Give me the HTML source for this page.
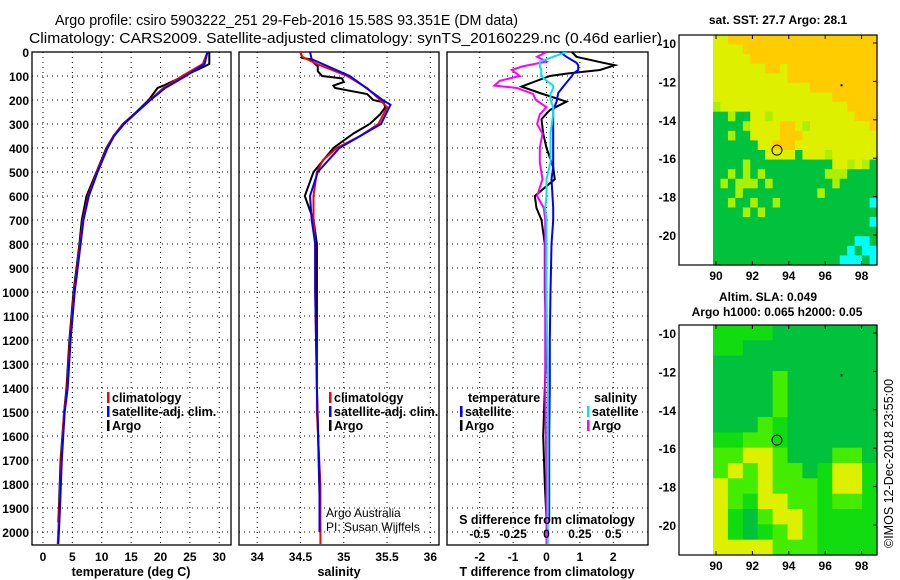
<!DOCTYPE html>
<html><head><meta charset="utf-8">
<style>
html,body{margin:0;padding:0;background:#fff;}
svg{display:block;font-family:"Liberation Sans",Arial,sans-serif;}
.t{font-size:12px;font-weight:bold;fill:#000;}
.lg{font-size:12.5px;font-weight:bold;fill:#000;}
.ti{font-size:15px;fill:#000;}
.n{font-size:12px;fill:#000;}
</style></head>
<body>
<svg id="fig" width="900" height="580" viewBox="0 0 900 580">
<text class="ti" x="55" y="25" textLength="463" lengthAdjust="spacingAndGlyphs">Argo profile: csiro 5903222_251 29-Feb-2016 15.58S 93.351E (DM data)</text>
<text class="ti" x="29" y="43" textLength="633" lengthAdjust="spacingAndGlyphs">Climatology: CARS2009. Satellite-adjusted climatology: synTS_20160229.nc (0.46d earlier)</text>
<text class="n" x="0" y="0" transform="translate(893,548) rotate(-90)" style="font-size:12.5px">©IMOS 12-Dec-2018 23:55:00</text>
<g id="g"></g>
</svg>
<script>
// ---- profile data ----
const tempDepth = [0,50,100,150,200,250,300,350,400,500,600,700,800,900,1000,1200,1400,1500,1700,1900,2000,2050];
const climT = [28.0,27.2,23.7,20.5,18.2,16.0,13.7,12.0,10.9,9.2,7.7,6.8,6.3,5.8,5.3,4.6,4.1,3.6,3.1,2.8,2.6,2.5];
const satT = [28.0,27.5,24.3,20.8,18.3,16.0,13.8,12.1,11.0,9.3,7.8,6.9,6.4,5.9,5.4,4.7,4.2,3.7,3.2,2.9,2.7,2.6];
const argoTDepth = [0,50,60,100,140,150,200,250,300,350,400,500,600,700,800,900,1000,1200,1400,1500,1700,1900,1960];
const argoT = [28.3,28.3,27.5,24,20.5,19.5,18,15.9,13.6,12.0,10.8,9.1,7.4,6.6,6.2,5.7,5.2,4.5,4.0,3.6,3.0,2.7,2.6];

const climSDepth = [0,20,50,100,150,200,230,300,350,400,450,500,600,700,800,1000,1400,1500,1800,2050];
const climS = [34.50,34.52,34.69,35.04,35.27,35.42,35.50,35.40,35.19,34.92,34.76,34.69,34.65,34.65,34.67,34.67,34.69,34.69,34.73,34.73];
const satSDepth = [0,30,100,200,220,300,400,500,600,700,800,1000,1400,1800,2000];
const satS = [34.61,34.63,35.07,35.45,35.54,35.43,34.95,34.70,34.61,34.63,34.67,34.67,34.69,34.72,34.72];
const argoSDepth = [0,25,30,60,80,100,110,125,140,150,175,200,210,230,260,300,340,400,500,600,650,700,800,1000,1400,2000];
const argoS = [34.50,34.52,34.61,34.70,34.70,34.75,34.98,35.0,34.88,34.9,35.27,35.34,35.46,35.48,35.42,35.3,35.11,34.88,34.65,34.55,34.60,34.65,34.69,34.69,34.69,34.73];

const dTDepth = [0,20,45,55,75,90,100,144,171,207,242,280,340,400,480,530,600,650,700,800,1000,1200,1400,1600,1800,1950];
const argoDT = [0.76,0.9,1.7,2.05,1.6,0.6,0.1,-0.75,-0.2,0.6,0.1,-0.15,-0.1,0.0,0.2,0.25,-0.35,-0.3,-0.15,-0.05,-0.05,0.0,-0.05,-0.1,-0.05,0.0];
const satDT = [0.4,0.6,0.9,0.95,0.95,0.8,0.76,0.5,0.35,0.3,0.2,0.2,0.2,0.2,0.2,0.15,0.18,0.2,0.2,0.15,0.12,0.1,0.1,0.08,0.08,0.08];
const dSDepth = [0,20,40,60,75,100,120,140,150,175,200,230,260,300,340,400,460,530,600,650,700,800,1000,1400,1800,2050];
const argoDS = [0,-0.07,0,-0.18,-0.26,-0.2,-0.35,-0.39,-0.22,-0.1,-0.08,0,-0.05,-0.07,-0.03,-0.05,-0.05,-0.03,-0.07,-0.02,-0.01,-0.01,-0.01,-0.01,0,0];
const satDS = [0.15,0.05,-0.05,-0.05,-0.04,-0.04,0.0,0.05,0.05,0.03,0.03,0.05,0.05,0.04,0.03,0.03,0.03,0.0,0.0,-0.01,0.0,0.0,0.0,0.01,0.01,0.01];

const depthTicks = [0,100,200,300,400,500,600,700,800,900,1000,1100,1200,1300,1400,1500,1600,1700,1800,1900,2000];
const tempTicks = [0,5,10,15,20,25,30];
const salTicks = [34,34.5,35,35.5,36];
const dTTicks = [-2,-1,0,1,2];
const dSTicks = [-0.5,-0.25,0,0.25,0.5];
const lonTicks = [90,92,94,96,98];
const latTicks = [-10,-12,-14,-16,-18,-20];

// map images (coarse cells)
const sstRows = [
"YYOOOOOOOOOOOOOOOOOOOO","YYYYOOOOOOOOOOOOOOOOOO","YYYYYOOOOOOOOOOOOOOOOO","YYYYYYYOOYOOOOOOOOOOOO",
"YYYYYYYYYYOOOOOOOOOOOO","YYYYYYYYYYYYYOOOOOOOOO","YYYYYYYYYYYYYYYYOOOOOO","LYYYYYYYYYYYYYYYYYOOOO",
"GGLGGYYLYYYYYYYYYYYOOO","GGGGLYYYYOOYLYYYYYYYYO","GGLGGYYYYOOOYYYYYYYYYY","GGGGGGYYOOOYYYYYYYYYYY",
"GGGGGGGYYYYGYYYLYYYYYY","GGGGLGGGGGGGGGGGYYLYLG","GGLGLGLGGGGGGGGLLLGGGG","GLGLLLGLGGGGGGGGLGGGGG",
"GGGLGGGGGGGGGGLGGGGGGG","GGLGGLGGLGGGGGGGGGGGGC","GGGGLGLGGGGGGGGGGGGGGG","GGGGGGGGGGGGGGGGGGGGGC",
"GGGGGGGGGGGGGGGGGGGGGG","GGGGGGGGGGGGGGGGGGGCCG","GGGGGGGGGGGGGGGGGGCGCC","GGGGGGGGGGGGGGGGGCCCGC"];
const slaRows = [
"MMMMDDDDDDD","MMDDDDDDDDD","DDDDDDDDDDD","DDDDBDDDDDD","DDDDBDDDDDD",
"DDDDBDDDDDD","DDDBMDDDDDD","MMBBMDDDDDD","BBYYBDDDBBD","BYBYBBDMYYM",
"YBBYBBBMYYM","YBMYYBBMBBM","YMDBYYBMMMM","YMDMBYBMMMM","YYYYBBBMMMM"];

const NS="http://www.w3.org/2000/svg";
const G=document.getElementById('g');
function mk(tag,attrs,parent){const e=document.createElementNS(NS,tag);for(const k in attrs)e.setAttribute(k,attrs[k]);(parent||G).appendChild(e);return e;}
function txt(s,x,y,cls,anchor,parent){const e=mk('text',{x:x,y:y,class:cls,'text-anchor':anchor||'start'},parent);e.textContent=s;return e;}

const Y0=52, PY=0.24, BOT=545;
const yD = d => Y0 + d*PY;
const panels=[
 {x0:32,x1:231,vmin:-1.87,vmax:32.0,name:'temperature-panel'},
 {x0:239,x1:439,vmin:33.79,vmax:36.1,name:'salinity-panel'},
 {x0:447,x1:648,vmin:-2.98,vmax:3.04,name:'difference-panel'}];
panels.forEach((p,i)=>{
 p.sx = v => p.x0 + (v-p.vmin)/(p.vmax-p.vmin)*(p.x1-p.x0);
 const cp=mk('clipPath',{id:'cp'+i});
 mk('rect',{x:p.x0,y:Y0,width:p.x1-p.x0,height:BOT-Y0},cp);
});
const sxS = v => panels[2].sx(v*4);

function gridAndFrame(p,i,ticks,fx){
 const g=mk('g',{});
 
 
 depthTicks.forEach(d=>{ if(d>0) mk('line',{x1:p.x0,x2:p.x1,y1:yD(d),y2:yD(d),stroke:'#000','stroke-width':1,'stroke-dasharray':'1,4'},g);});
 ticks.forEach(v=>{ const x=fx(v); mk('line',{x1:x,x2:x,y1:Y0,y2:BOT,stroke:'#000','stroke-width':1,'stroke-dasharray':'1,4'},g);});
 mk('rect',{x:p.x0,y:Y0,width:p.x1-p.x0,height:BOT-Y0,fill:'none',stroke:'#000','stroke-width':1.3},g);
 return g;
}
function series(p,i,vals,depths,fx,color,name){
 let d='';
 vals.forEach((v,k)=>{d+=(k?'L':'M')+fx(v).toFixed(1)+','+yD(depths[k]).toFixed(1);});
 const e=mk('path',{d:d,fill:'none',stroke:color,'stroke-width':2,'clip-path':'url(#cp'+i+')'});
 
 
}

const pT=panels[0];
gridAndFrame(pT,0,tempTicks,pT.sx);
series(pT,0,argoT,argoTDepth,pT.sx,'#000','argo-temperature-line');
series(pT,0,climT,tempDepth,pT.sx,'#ff0000','climatology-temperature-line');
series(pT,0,satT,tempDepth,pT.sx,'#0000ff','satellite-temperature-line');
const pS=panels[1];
gridAndFrame(pS,1,salTicks,pS.sx);
series(pS,1,argoS,argoSDepth,pS.sx,'#000','argo-salinity-line');
series(pS,1,climS,climSDepth,pS.sx,'#ff0000','climatology-salinity-line');
series(pS,1,satS,satSDepth,pS.sx,'#0000ff','satellite-salinity-line');
const pD=panels[2];
gridAndFrame(pD,2,dTTicks,pD.sx);
series(pD,2,argoDT,dTDepth,pD.sx,'#000','argo-t-difference-line');
series(pD,2,satDT,dTDepth,pD.sx,'#0000ff','satellite-t-difference-line');
series(pD,2,argoDS,dSDepth,sxS,'#ff00ff','argo-s-difference-line');
series(pD,2,satDS,dSDepth,sxS,'#00e5ee','satellite-s-difference-line');

depthTicks.forEach(d=>{const e=txt(String(d),29,yD(d)+5,'t','end');
 
 });
function xlabels(ticks,fx,y,name){ticks.forEach(v=>{const e=txt(String(v),fx(v),y,'t','middle');
 
 });}
xlabels(tempTicks,pT.sx,561,'temperature-tick-label');
xlabels(salTicks,pS.sx,561,'salinity-tick-label');
xlabels(dTTicks,pD.sx,561,'t-difference-tick-label');
xlabels(dSTicks,sxS,538,'s-difference-tick-label');
[['temperature (deg C)',131,'temperature-axis-title'],['salinity',339,'salinity-axis-title'],['T difference from climatology',547,'t-difference-axis-title']].forEach(a=>{
 const e=txt(a[0],a[1],576,'lg','middle');
 
 });
{const e=txt('S difference from climatology',547,524,'lg','middle');
 
 }

function legend(x,y,color,label,name){
 const g=mk('g',{});
 
 
 mk('rect',{x:x,y:y-10,width:2.5,height:11,fill:color},g);
 txt(label,x+5,y,'lg','start',g);
}
legend(107,402,'#ff0000','climatology','legend-climatology-temperature');
legend(107,416,'#0000ff','satellite-adj. clim.','legend-satellite-temperature');
legend(107,430,'#000','Argo','legend-argo-temperature');
legend(329,402,'#ff0000','climatology','legend-climatology-salinity');
legend(329,416,'#0000ff','satellite-adj. clim.','legend-satellite-salinity');
legend(329,430,'#000','Argo','legend-argo-salinity');
{const e=txt('temperature',468,402,'lg');}
{const e=txt('salinity',594,402,'lg');}
legend(460,416,'#0000ff','satellite','legend-satellite-t-diff');
legend(460,430,'#000','Argo','legend-argo-t-diff');
legend(587,416,'#00e5ee','satellite','legend-satellite-s-diff');
legend(587,430,'#ff00ff','Argo','legend-argo-s-diff');
{const e=txt('Argo Australia',326,517,'n');}
{const e=txt('PI: Susan Wijffels',326,531,'n');}

const COL={O:'#ffcc00',Y:'#ddf000',L:'#aaf000',G:'#00c23c',C:'#00ffff',D:'#00c23c',M:'#10dc10',B:'#44ec00'};
function drawMap(top,bot,rows,title,name){
 const bx0=679,bx1=877,dx0=713;
 const lonS=v=>716+(v-90)*18.2;
 const latS=v=>(top+8)+(-10-v)*19.2;
 const g=mk('g',{});
 
 
 const nr=rows.length,nc=rows[0].length;
 const cw=(bx1-dx0)/nc,ch=(bot-top)/nr;
 rows.forEach((r,ri)=>{for(let ci=0;ci<nc;ci++){
   mk('rect',{x:(dx0+ci*cw).toFixed(2),y:(top+ri*ch).toFixed(2),width:(cw+0.6).toFixed(2),height:(ch+0.6).toFixed(2),fill:COL[r[ci]]},g);}});
 mk('rect',{x:bx0,y:top,width:bx1-bx0,height:bot-top,fill:'none',stroke:'#000','stroke-width':1.2},g);
 lonTicks.forEach(v=>{const x=lonS(v);
  mk('line',{x1:x,x2:x,y1:top,y2:top+4,stroke:'#000'},g);
  mk('line',{x1:x,x2:x,y1:bot,y2:bot-4,stroke:'#000'},g);
  txt(String(v),x,bot+15,'t','middle',g);});
 latTicks.forEach(v=>{const y=latS(v);
  mk('line',{x1:bx1,x2:bx1-4,y1:y,y2:y,stroke:'#000'},g);
  txt(String(v),676,y+5,'t','end',g);});
 mk('circle',{cx:lonS(93.35),cy:latS(-15.58),r:5,fill:'none',stroke:'#000','stroke-width':1},g);
 mk('rect',{x:lonS(96.9)-1,y:latS(-12.2)-1,width:2,height:2,fill:'#000'},g);
 title.forEach(t=>txt(t[0],t[1],t[2],'t','middle',g));
}
drawMap(35,265,sstRows,[['sat. SST: 27.7 Argo: 28.1',778,24]],'sst-map');
drawMap(325,555,slaRows,[['Altim. SLA: 0.049',768,301],['Argo h1000: 0.065 h2000: 0.05',777,316]],'sla-map');
</script>
</body></html>
